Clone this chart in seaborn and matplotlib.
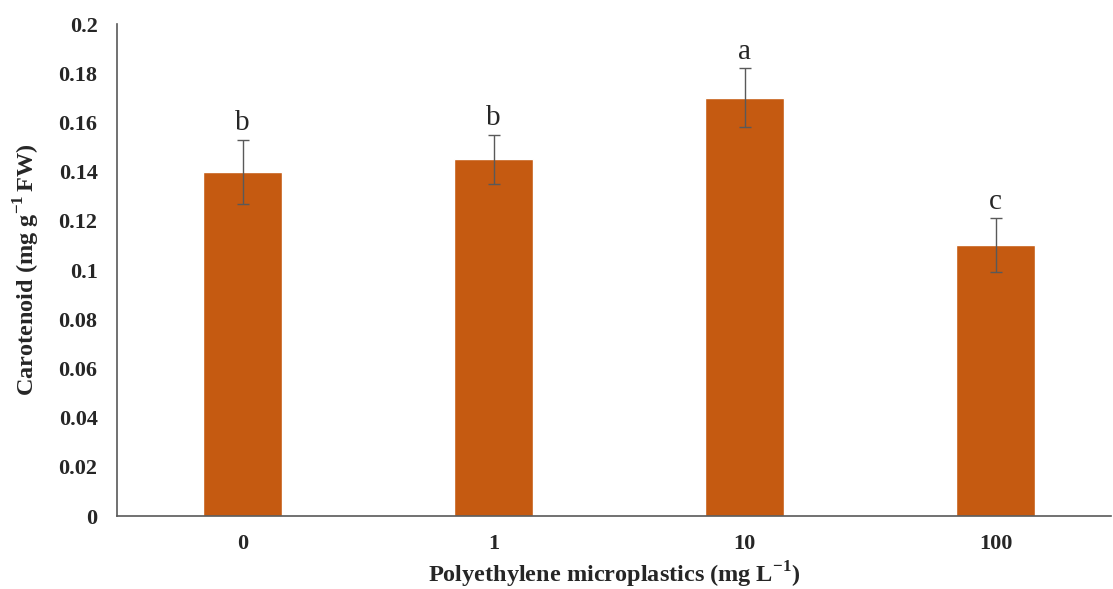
import numpy as np
import pandas as pd
import matplotlib
matplotlib.use("Agg")
import matplotlib.pyplot as plt
import seaborn as sns

# values
concentrations = ["0", "1", "10", "100"]
carotenoid = [0.140, 0.145, 0.170, 0.110]
std_err = [0.013, 0.010, 0.012, 0.011]
letters = ["b", "b", "a", "c"]

bar_color = "#C55A11"
err_color = "#595959"

sns.set_style("white")
plt.rcParams["font.family"] = ["Liberation Serif", "DejaVu Serif"]
plt.rcParams["mathtext.fontset"] = "custom"
plt.rcParams["mathtext.rm"] = "Liberation Serif"
plt.rcParams["mathtext.bf"] = "Liberation Serif:bold"

df = pd.DataFrame({"conc": concentrations, "value": carotenoid, "err": std_err})

fig = plt.figure(figsize=(11.13, 5.89), dpi=100)
ax = fig.add_axes([117 / 1113, 73 / 589, 994 / 1113, 492 / 589])

sns.barplot(data=df, x="conc", y="value", order=concentrations, color=bar_color,
            saturation=1, width=0.315, errorbar=None, ax=ax)

pos = np.arange(len(concentrations))
ax.errorbar(pos, df["value"], yerr=df["err"], fmt="none", ecolor=err_color,
            elinewidth=1, capsize=4, capthick=1)

for p, v, e, lab in zip(pos, df["value"], df["err"], letters):
    ax.text(p, v + e + 0.0015, lab, ha="center", va="bottom", fontsize=21)

ax.set_xlim(-0.5, 3.46)
ax.set_ylim(0, 0.2)
ax.set_yticks(np.arange(0, 0.201, 0.02))
ax.set_yticklabels(["0", "0.02", "0.04", "0.06", "0.08", "0.1", "0.12",
                    "0.14", "0.16", "0.18", "0.2"])
ax.tick_params(axis="both", length=0, labelsize=16)
ax.tick_params(axis="y", pad=14)
ax.tick_params(axis="x", pad=13)
for lab in ax.get_xticklabels() + ax.get_yticklabels():
    lab.set_fontweight("bold")

ax.set_xlabel("Polyethylene microplastics (mg L$^{\\mathbf{-1}}$)", fontsize=17.5,
              fontweight="bold")
ax.xaxis.set_label_coords(0.5 * (1 + 0.04 / 3.96) - 0.005, -0.088)
ax.set_ylabel("Carotenoid (mg g$^{\\mathbf{-1}}\\,$FW)", fontsize=17.5,
              fontweight="bold", labelpad=12)

for side in ["top", "right"]:
    ax.spines[side].set_visible(False)
for side in ["left", "bottom"]:
    ax.spines[side].set_color("#595959")
    ax.spines[side].set_linewidth(1.2)

plt.savefig("out.png", dpi=100)
